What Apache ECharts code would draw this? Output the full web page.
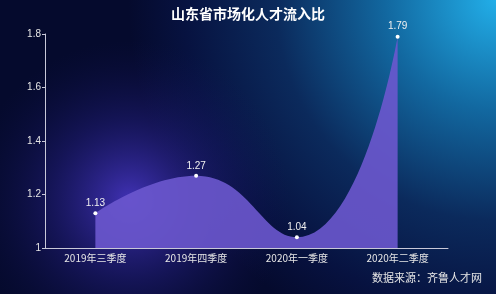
<!DOCTYPE html>
<html><head><meta charset="utf-8">
<script src="https://cdn.jsdelivr.net/npm/echarts@6/dist/echarts.min.js"></script>
<style>html,body{margin:0;padding:0;}#c{width:496px;height:294px;}</style>
</head><body><div id="c"></div>
<script>
const categories = ['2019年三季度', '2019年四季度', '2020年一季度', '2020年二季度'];
const values = [1.13, 1.27, 1.04, 1.79];
const yTicks = [1, 1.2, 1.4, 1.6, 1.8];
const titleText = '山东省市场化人才流入比';
const sourceText = '数据来源：齐鲁人才网';

const chart = echarts.init(document.getElementById('c'));
chart.setOption({
  backgroundColor: '#050a2d',
  graphic: [
    {type: 'rect', z: -20, silent: true, shape: {x: 0, y: 0, width: 496, height: 294},
     style: {fill: {type: 'radial', x: 1, y: 0, r: 1.25,
       colorStops: [{offset: 0, color: '#22aee8'}, {offset: 0.3, color: '#1268a0'}, {offset: 0.6, color: '#0b2a5c'},
                    {offset: 0.85, color: '#071240'}, {offset: 1, color: '#050a2d'}]}}},
    {type: 'circle', z: -10, silent: true, shape: {cx: 130, cy: 200, r: 160},
     style: {fill: {type: 'radial', x: 0.5, y: 0.5, r: 0.5,
       colorStops: [{offset: 0, color: 'rgba(80,60,215,0.8)'}, {offset: 0.5, color: 'rgba(50,40,165,0.35)'}, {offset: 1, color: 'rgba(20,20,90,0)'}]}}},
    {type: 'text', right: 14, top: 272, style: {text: sourceText, fill: '#e6e6e6', font: '11px "Noto Sans CJK SC"'}}
  ],
  title: {text: titleText, left: 'center', top: 2,
    textStyle: {color: '#fff', fontSize: 14, fontWeight: 'bold', fontFamily: 'Noto Sans CJK SC'}},
  grid: {left: 45, right: 48, top: 34, bottom: 46},
  xAxis: {type: 'category', data: categories, boundaryGap: true,
    axisLine: {lineStyle: {color: '#c8c8d8'}},
    axisTick: {lineStyle: {color: '#c8c8d8'}, length: 3},
    axisLabel: {color: '#e6e6e6', fontSize: 10, margin: 5, fontFamily: 'Noto Sans CJK SC'}},
  yAxis: {type: 'value', min: 1, max: 1.8, interval: 0.2,
    axisLine: {show: true, lineStyle: {color: '#c8c8d8'}},
    axisTick: {show: true, length: 3, lineStyle: {color: '#c8c8d8'}},
    splitLine: {show: false},
    axisLabel: {color: '#e6e6e6', fontSize: 10, margin: 4,
      formatter: v => (yTicks.includes(+v.toFixed(1)) ? String(+v.toFixed(1)) : '')}},
  series: [{
    type: 'line', data: values, smooth: true,
    symbol: 'circle', symbolSize: 4,
    itemStyle: {color: '#ffffff'},
    lineStyle: {width: 0, color: '#6a58c8'},
    areaStyle: {color: 'rgba(108,88,206,0.9)', opacity: 1},
    label: {show: true, position: 'top', color: '#f0f0f0', fontSize: 10, distance: 3}
  }]
});
</script></body></html>
